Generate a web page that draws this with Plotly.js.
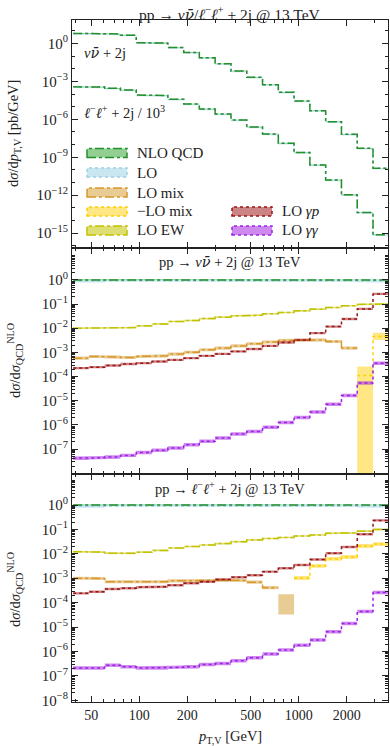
<!DOCTYPE html>
<html>
<head>
<meta charset="utf-8">
<script src="https://cdn.plot.ly/plotly-3.0.1.min.js"></script>
<style>
html, body { margin: 0; padding: 0; background: #fff; }
#plot { width: 390px; height: 746px; }
</style>
</head>
<body>
<div id="plot"></div>
<script>
// bin edges in p_T,V [GeV]
var edges = [38.5, 48.3, 60.7, 76.2, 95.7, 120, 151, 190, 238, 299, 376, 472, 593, 745, 935, 1175, 1476, 1854, 2328, 2924, 3673];

// top panel: dsigma/dpT [pb/GeV] at NLO QCD
var nnSpec = [6.2, 6.0, 5.6, 4.5, 1.15, 1.05, 0.48, 0.195, 0.072, 0.0245, 0.0065, 0.0021, 5.4e-4, 1.35e-4, 2.8e-5, 4.8e-6, 6.5e-7, 6.6e-8, 5.1e-9, 1.35e-10];
var llSpec = [3.7e-4, 3.55e-4, 2.8e-4, 2.05e-4, 8.3e-5, 7.6e-5, 3.8e-5, 1.6e-5, 6.5e-6, 2.6e-6, 8.9e-7, 2.45e-7, 6.8e-8, 1.3e-8, 2.35e-9, 2.5e-10, 1.6e-11, 1.07e-12, 4.3e-14, 7.4e-16];

// ratio panels: LO over NLO QCD, with its band
var ratioLO   = [0.92, 0.92, 0.94, 0.94, 0.94, 0.94, 0.94, 0.94, 0.94, 0.94, 0.94, 0.94, 0.94, 0.94, 0.94, 0.94, 0.93, 0.93, 0.92, 0.92];
var ratioLOlo = [0.78, 0.78, 0.86, 0.86, 0.86, 0.86, 0.86, 0.86, 0.86, 0.86, 0.86, 0.86, 0.86, 0.86, 0.86, 0.86, 0.85, 0.84, 0.80, 0.78];
var ratioLOhi = [1.10, 1.10, 1.04, 1.04, 1.04, 1.04, 1.04, 1.04, 1.04, 1.04, 1.04, 1.04, 1.04, 1.04, 1.04, 1.04, 1.05, 1.06, 1.08, 1.10];
var ratioNLO  = [1, 1, 1, 1, 1, 1, 1, 1, 1, 1, 1, 1, 1, 1, 1, 1, 1, 1, 1, 1];

// nu nubar + 2j ratios
var nnEW  = [0.0100, 0.0100, 0.0100, 0.0107, 0.0126, 0.0151, 0.0190, 0.0210, 0.0251, 0.0288, 0.0324, 0.0347, 0.0398, 0.0447, 0.0525, 0.0617, 0.0724, 0.0851, 0.0955, 0.102];
var nnMix = [5.8e-4, 6.8e-4, 6.5e-4, 6.2e-4, 6.8e-4, 7.2e-4, 8.5e-4, 1.02e-3, 1.29e-3, 1.51e-3, 1.86e-3, 2.29e-3, 2.69e-3, 3.09e-3, 3.31e-3, 3.31e-3, 2.82e-3, 1.51e-3, null, null];
var nnMixNeg   = [null, null, null, null, null, null, null, null, null, null, null, null, null, null, null, null, null, null, 1.12e-4, 4.6e-3];
var nnMixNegLo = [null, null, null, null, null, null, null, null, null, null, null, null, null, null, null, null, null, null, 1e-10, 3.3e-3];
var nnMixNegHi = [null, null, null, null, null, null, null, null, null, null, null, null, null, null, null, null, null, null, 2.6e-4, 6.5e-3];
var nnGp = [2.24e-4, 2.45e-4, 2.88e-4, 3.3e-4, 3.6e-4, 4.2e-4, 4.9e-4, 5.8e-4, 7.2e-4, 8.7e-4, 1.1e-3, 1.38e-3, 1.86e-3, 2.57e-3, 3.3e-3, 6.3e-3, 0.0117, 0.024, 0.063, 0.263];
var nnGG = [4.2e-8, 4.4e-8, 4.7e-8, 5.5e-8, 7.2e-8, 8.9e-8, 1.12e-7, 1.51e-7, 2.1e-7, 2.9e-7, 4.2e-7, 5.4e-7, 8.1e-7, 1.26e-6, 2.04e-6, 3.4e-6, 7.2e-6, 1.66e-5, 5.4e-5, 3.6e-4];

// l- l+ + 2j ratios
var llEW  = [0.0123, 0.0117, 0.0107, 0.0105, 0.0117, 0.0138, 0.0174, 0.020, 0.0229, 0.0263, 0.0316, 0.0372, 0.0427, 0.0468, 0.0537, 0.0589, 0.0692, 0.0724, 0.0851, 0.100];
var llMix = [1.0e-3, 9.8e-4, 7.2e-4, 6.9e-4, 7.2e-4, 7.2e-4, 7.8e-4, 7.9e-4, 8.1e-4, 8.5e-4, 8.1e-4, 6.9e-4, 4.1e-4, null, null, null, null, null, null, null];
var llMixLo = [null, null, null, null, null, null, null, null, null, null, null, null, null, 3.3e-5, null, null, null, null, null, null];
var llMixHi = [null, null, null, null, null, null, null, null, null, null, null, null, null, 2.2e-4, null, null, null, null, null, null];
var llMixNeg = [null, null, null, null, null, null, null, null, null, null, null, null, null, null, 1.02e-3, 3.2e-3, 6.2e-3, 7.4e-3, 0.0209, 0.0251];
var llGp = [2.4e-4, 2.8e-4, 3.6e-4, 3.9e-4, 4.3e-4, 4.5e-4, 5.2e-4, 6.2e-4, 7.2e-4, 8.9e-4, 1.1e-3, 1.32e-3, 1.86e-3, 2.57e-3, 3.5e-3, 5.9e-3, 0.0105, 0.019, 0.063, 0.234];
var llGG = [2.1e-7, 2.1e-7, 2.75e-7, 2.35e-7, 2.1e-7, 2.1e-7, 2.25e-7, 2.35e-7, 2.95e-7, 3.2e-7, 4.2e-7, 5.5e-7, 7.8e-7, 1.15e-6, 1.8e-6, 2.95e-6, 6.5e-6, 1.41e-5, 4.3e-5, 2.6e-4];

var xTicks = [50, 100, 200, 500, 1000, 2000];
var legendNames = ['NLO QCD', 'LO', 'LO mix', '\u2212LO mix', 'LO EW', 'LO <i>\u03b3p</i>', 'LO <i>\u03b3\u03b3</i>'];

var F = 'Liberation Serif, Times New Roman, serif';
var C = {
  nlo:  {line: '#23902a', fill: 'rgba(40,160,40,0.5)', dash: 'dashdot'},
  lo:   {line: '#9dd0e4', fill: 'rgba(150,205,225,0.5)', dash: 'dot'},
  mix:  {line: '#d8982a', fill: 'rgba(215,160,60,0.55)', dash: 'dashdot'},
  neg:  {line: '#ffd000', fill: 'rgba(255,212,30,0.55)', dash: 'dot'},
  ew:   {line: '#c2c200', fill: 'rgba(200,200,20,0.6)', dash: 'dashdot'},
  gp:   {line: '#9c1515', fill: 'rgba(160,30,30,0.55)', dash: 'dot'},
  gg:   {line: '#a020e8', fill: 'rgba(165,40,225,0.55)', dash: 'dot'}
};
var legendCols = [C.nlo, C.lo, C.mix, C.neg, C.ew, C.gp, C.gg];

// closed step-shaped band, one polygon per run of filled bins
function band(lo, hi) {
  var xs = [], ys = [], k = 0;
  while (k < lo.length) {
    if (lo[k] == null) { k++; continue; }
    var s = k;
    while (k < lo.length && lo[k] != null) k++;
    for (var i = s; i < k; i++) { xs.push(edges[i], edges[i + 1]); ys.push(hi[i], hi[i]); }
    for (var j = k - 1; j >= s; j--) { xs.push(edges[j + 1], edges[j]); ys.push(lo[j], lo[j]); }
    xs.push(null); ys.push(null);
  }
  return {x: xs, y: ys};
}
function steps(v) {
  var xs = [], ys = [];
  for (var i = 0; i < v.length; i++) {
    xs.push(edges[i], edges[i + 1]);
    ys.push(v[i], v[i]);
  }
  return {x: xs, y: ys};
}
function scaled(v, f) { return v.map(function (a) { return a == null ? null : a * f; }); }
function pick(a, b) { return a.map(function (x, i) { return x != null ? x : b[i]; }); }

var data = [];
function series(ax, v, col, lo, hi) {
  var b = band(lo, hi);
  data.push({type: 'scatter', mode: 'lines', x: b.x, y: b.y, xaxis: 'x' + ax, yaxis: 'y' + ax,
    fill: 'toself', fillcolor: col.fill, line: {width: 0}, showlegend: false, hoverinfo: 'skip'});
  if (v) {
    var s = steps(v);
    data.push({type: 'scatter', mode: 'lines', x: s.x, y: s.y, xaxis: 'x' + ax, yaxis: 'y' + ax,
      line: {color: col.line, width: 1.5, dash: col.dash}, showlegend: false, hoverinfo: 'skip'});
  }
}
function withBand(ax, v, col, f, lo, hi) {
  series(ax, v, col, lo ? pick(lo, scaled(v, 1 / f)) : scaled(v, 1 / f), hi ? pick(hi, scaled(v, f)) : scaled(v, f));
}

// panel 1
series('', nnSpec, C.lo, scaled(nnSpec, 0.8), scaled(nnSpec, 1.06));
series('', llSpec, C.lo, scaled(llSpec, 0.8), scaled(llSpec, 1.06));
withBand('', nnSpec, C.nlo, 1.05);
withBand('', llSpec, C.nlo, 1.05);

// ratio panels
[['2', nnEW, nnMix, nnGp, nnGG], ['3', llEW, llMix, llGp, llGG]].forEach(function (p) {
  var ax = p[0];
  series(ax, ratioLO, C.lo, ratioLOlo, ratioLOhi);
  withBand(ax, ratioNLO, C.nlo, 1.03);
  withBand(ax, p[1], C.ew, 1.08);
  if (ax === '2') {
    withBand(ax, p[2], C.mix, 1.16);
    series(ax, nnMixNeg, C.neg, nnMixNegLo, nnMixNegHi);
  } else {
    withBand(ax, p[2], C.mix, 1.16, llMixLo, llMixHi);
    withBand(ax, llMixNeg, C.neg, 1.2);
  }
  withBand(ax, p[3], C.gp, 1.12);
  withBand(ax, p[4], C.gg, 1.18);
});

function pX(px) { return (px - 72) / 316; }
function pY(py) { return (702 - py) / 682; }

// legend: two columns of swatches drawn inside the top panel
var legendX = [87, 87, 87, 87, 87, 232, 232];
var legendY = [153, 172.5, 192.5, 211.5, 230.5, 211.5, 230.5];
var shapes = [], annotations = [];
legendNames.forEach(function (name, i) {
  var c = legendCols[i];
  shapes.push({type: 'rect', xref: 'paper', yref: 'paper',
    x0: pX(legendX[i]), x1: pX(legendX[i] + 40), y0: pY(legendY[i] + 4.5), y1: pY(legendY[i] - 4.5),
    fillcolor: c.fill, line: {color: c.line, width: 1.5, dash: c.dash}});
  annotations.push({text: name, xref: 'paper', yref: 'paper', x: pX(legendX[i] + 48), y: pY(legendY[i]),
    xanchor: 'left', yanchor: 'middle', showarrow: false, font: {family: F, size: 15, color: '#222'}});
});

function xAx(labels) {
  return {type: 'log', range: [1.578, 3.56], showline: true, linecolor: '#222', linewidth: 1, mirror: 'ticks',
    ticks: 'inside', ticklen: 6, tickcolor: '#222', tickmode: 'array', tickvals: xTicks, ticktext: xTicks.map(String),
    showticklabels: labels, showgrid: false, zeroline: false,
    minor: {ticks: 'inside', ticklen: 3, tickcolor: '#222', dtick: 'D1', showgrid: false},
    tickfont: {family: F, size: 14, color: '#222'}};
}
function yAx(range, dom, vals, minor) {
  return {type: 'log', range: range, domain: dom, showline: true, linecolor: '#222', linewidth: 1, mirror: 'ticks',
    ticks: 'inside', ticklen: 6, tickcolor: '#222', tickmode: 'array', tickvals: vals,
    ticktext: vals.map(function (v) {
      var e = Math.round(Math.log10(v));
      return '10<sup>' + (e < 0 ? '\u2212' + (-e) : e) + '</sup>';
    }),
    showgrid: false, zeroline: false,
    minor: {ticks: 'inside', ticklen: 3, tickcolor: '#222', dtick: minor, showgrid: false},
    tickfont: {family: F, size: 15, color: '#222'}};
}

var xa1 = xAx(false); xa1.anchor = 'y';
var xa2 = xAx(false); xa2.anchor = 'y2'; xa2.matches = 'x';
var xa3 = xAx(true); xa3.anchor = 'y3'; xa3.matches = 'x';

function note(text, x, y, opts) {
  var a = {text: text, x: x, y: y, xref: 'paper', yref: 'paper', showarrow: false,
    font: {family: F, size: 14.5, color: '#222'}, xanchor: 'center', yanchor: 'middle'};
  for (var k in opts) a[k] = opts[k];
  return a;
}
var nubar = '<i>\u03bd</i><span style="font-family:DejaVu Serif"><i>\u03bd\u0304</i></span>';
var ll = '<i>\u2113</i><sup>\u2212</sup><i>\u2113</i><sup>+</sup>';

annotations = annotations.concat([
  note('pp \u2192 ' + nubar + '/' + ll + ' + 2j @ 13 TeV', 0.5, pY(13), {font: {family: F, size: 15.5, color: '#222'}}),
  note(nubar + ' + 2j', pX(82), pY(53), {xanchor: 'left'}),
  note(ll + ' + 2j / 10<sup>3</sup>', pX(82), pY(112), {xanchor: 'left'}),
  note('pp \u2192 ' + nubar + ' + 2j @ 13 TeV', 0.5, pY(262)),
  note('pp \u2192 ' + ll + ' + 2j @ 13 TeV', 0.5, pY(488)),
  note('d<i>\u03c3</i>/d<i>p</i><sub>T,V</sub> [pb/GeV]', pX(14), pY(134), {textangle: -90}),
  note('d<i>\u03c3</i>/d<i>\u03c3</i><sub>QCD</sub><sup>NLO</sup>', pX(15), pY(361), {textangle: -90}),
  note('d<i>\u03c3</i>/d<i>\u03c3</i><sub>QCD</sub><sup>NLO</sup>', pX(15), pY(590), {textangle: -90}),
  note('<i>p</i><sub>T,V</sub> [GeV]', 0.5, pY(737))
]);

var layout = {
  width: 390, height: 746,
  margin: {l: 72, r: 2, t: 20, b: 44},
  paper_bgcolor: '#fff', plot_bgcolor: '#fff',
  font: {family: F, size: 14, color: '#222'},
  showlegend: false,
  xaxis: xa1, xaxis2: xa2, xaxis3: xa3,
  yaxis: yAx([-16.17, 1.85], [0.6657, 1], [1, 1e-3, 1e-6, 1e-9, 1e-12, 1e-15], 1),
  yaxis2: yAx([-8.03, 1.32], [0.3343, 0.6657], [1, 1e-1, 1e-2, 1e-3, 1e-4, 1e-5, 1e-6, 1e-7], 'D1'),
  yaxis3: yAx([-8.07, 1.27], [0, 0.3343], [1, 1e-1, 1e-2, 1e-3, 1e-4, 1e-5, 1e-6, 1e-7, 1e-8], 'D1'),
  shapes: shapes,
  annotations: annotations
};

Plotly.newPlot('plot', data, layout, {displayModeBar: false, staticPlot: true});
</script>
</body>
</html>
